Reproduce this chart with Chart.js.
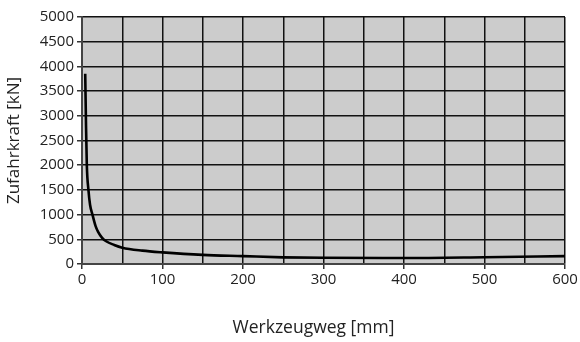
<!DOCTYPE html>
<html>
<head>
<meta charset="utf-8">
<script src="https://cdn.jsdelivr.net/npm/chart.js@4.4.0/dist/chart.umd.min.js"></script>
<style>
  html, body { margin: 0; padding: 0; background: #fff; }
  #wrap { width: 580px; height: 342px; }
</style>
</head>
<body>
<div id="wrap"><canvas id="c" width="580" height="342"></canvas></div>
<script>
// Werkzeugweg [mm]
const wegMm = [4, 5, 6, 8, 10, 13, 17, 20, 25, 30, 40, 50, 75, 100, 150, 200, 250, 300, 400, 500, 600];
// Zufahrkraft [kN]
const kraftKN = [3850, 2800, 2000, 1500, 1200, 1000, 760, 650, 530, 460, 385, 330, 270, 235, 185, 160, 135, 125, 122, 138, 160];
const xTicks = [0, 100, 200, 300, 400, 500, 600];
const yTicks = [0, 500, 1000, 1500, 2000, 2500, 3000, 3500, 4000, 4500, 5000];
const xTitle = 'Werkzeugweg [mm]';
const yTitle = 'Zufahrkraft [kN]';

const FONT = '"Open Sans", "Noto Sans", sans-serif';

const bgPlugin = {
  id: 'plotBg',
  beforeDraw(chart) {
    const a = chart.chartArea, ctx = chart.ctx;
    ctx.save();
    ctx.fillStyle = '#cccccc';
    ctx.fillRect(a.left, a.top, a.right - a.left, a.bottom - a.top);
    ctx.restore();
  }
};

// x-axis title, drawn slightly left of the plot centre as in the reference
const xTitlePlugin = {
  id: 'xTitle',
  afterDraw(chart) {
    const a = chart.chartArea, ctx = chart.ctx;
    ctx.save();
    ctx.fillStyle = '#222';
    ctx.font = '17.5px ' + FONT;
    ctx.textAlign = 'center';
    ctx.textBaseline = 'middle';
    ctx.fillText(xTitle, (a.left + a.right) / 2 - 10, 328);
    ctx.restore();
  }
};

new Chart(document.getElementById('c'), {
  type: 'line',
  data: {
    datasets: [{
      data: wegMm.map((x, i) => ({ x: x, y: kraftKN[i] })),
      borderColor: '#000',
      borderWidth: 2.6,
      pointRadius: 0,
      cubicInterpolationMode: 'monotone',
      fill: false
    }]
  },
  options: {
    responsive: false,
    animation: false,
    devicePixelRatio: 1,
    layout: { padding: { top: 17, right: 15, bottom: 0, left: 0 } },
    plugins: { legend: { display: false }, tooltip: { enabled: false } },
    scales: {
      x: {
        type: 'linear', min: 0, max: 600,
        afterFit(s) { s.height = 78; },
        ticks: {
          stepSize: 50,
          autoSkip: false,
          maxRotation: 0,
          padding: 2,
          color: '#222',
          font: { family: FONT, size: 15 },
          callback: v => xTicks.includes(v) ? String(v) : ''
        },
        grid: {
          color: '#111',
          lineWidth: 1.5,
          tickLength: 5,
          tickColor: ctx => (ctx.tick && xTicks.includes(ctx.tick.value)) ? '#333' : 'rgba(0,0,0,0)'
        },
        border: { color: '#444', width: 2 },
        title: { display: false }
      },
      y: {
        type: 'linear', min: 0, max: 5000,
        afterFit(s) { s.width = 82; },
        afterBuildTicks(s) { s.ticks = yTicks.map(v => ({ value: v })); },
        ticks: {
          padding: 3,
          color: '#222',
          font: { family: FONT, size: 15 },
          callback: v => String(v)
        },
        grid: { color: '#111', lineWidth: 1.5, tickLength: 5, tickColor: '#333' },
        border: { color: '#444', width: 2 },
        title: {
          display: true, text: yTitle, color: '#222',
          font: { family: FONT, size: 17 },
          padding: { top: 4, bottom: 0 }
        }
      }
    }
  },
  plugins: [bgPlugin, xTitlePlugin]
});
</script>
</body>
</html>
